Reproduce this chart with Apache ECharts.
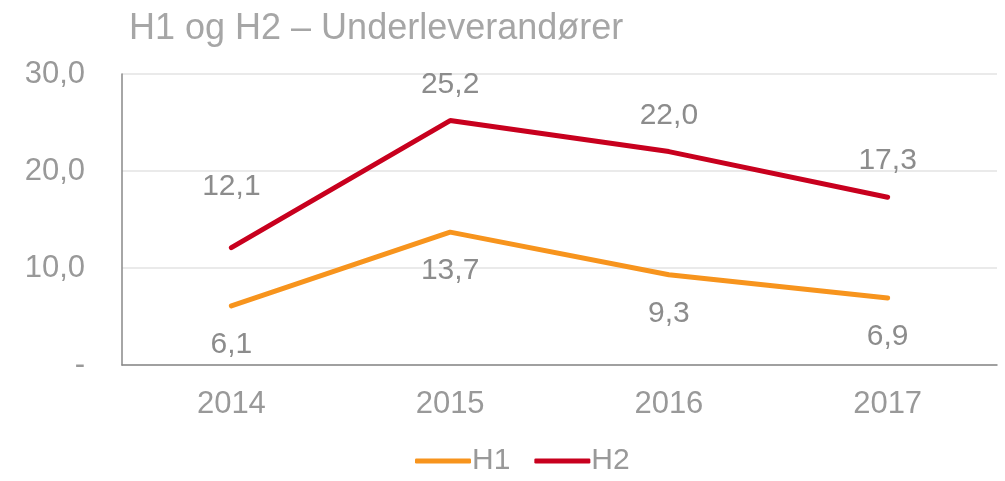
<!DOCTYPE html>
<html><head><meta charset="utf-8">
<script src="https://cdn.jsdelivr.net/npm/echarts@6/dist/echarts.min.js"></script>
<style>html,body{margin:0;padding:0;background:#fff}#c{width:1005px;height:481px}</style>
</head><body><div id="c"></div>
<script>
var categories = ['2014', '2015', '2016', '2017'];
var h1Values = [6.1, 13.7, 9.3, 6.9];
var h2Values = [12.1, 25.2, 22.0, 17.3];
var yTicks = [0, 10, 20, 30];
var titleText = 'H1 og H2 – Underleverandører';

var fmt = function (v) { return v === 0 ? '-' : Number(v).toFixed(1).replace('.', ','); };
var labelFmt = function (p) {
  var v = (p && typeof p.value === 'object' && p.value !== null) ? p.value.value : p.value;
  return fmt(v);
};
var font = 'Liberation Sans, Arial, sans-serif';
var chart = echarts.init(document.getElementById('c'));
var h2Data = h2Values.map(function (v, i) {
  return i === 0 ? { value: v, label: { distance: 45 } } : v;
});
chart.setOption({
  animation: false,
  title: { text: titleText, left: 124, top: 6, textStyle: { fontFamily: font, fontSize: 36, fontWeight: 'normal', color: '#a6a6a6' } },
  grid: { left: 122, right: 8, top: 74, bottom: 116 },
  legend: {
    bottom: 0, left: 410, itemWidth: 56, itemHeight: 5, itemGap: 24,
    icon: 'roundRect',
    textStyle: { fontFamily: font, fontSize: 30, color: '#999', padding: [0, 0, 0, -4] },
    data: ['H1', 'H2']
  },
  xAxis: {
    type: 'category', data: categories, boundaryGap: true,
    axisLine: { lineStyle: { color: '#888', width: 1.5 } },
    axisTick: { show: false },
    axisLabel: { fontFamily: font, fontSize: 31, color: '#999', margin: 24 }
  },
  yAxis: {
    type: 'value', min: yTicks[0], max: yTicks[yTicks.length - 1], interval: 10,
    axisLine: { show: true, lineStyle: { color: '#888', width: 1.5 } },
    axisTick: { show: false },
    splitLine: { lineStyle: { color: '#e3e3e3', width: 1.5 } },
    axisLabel: { fontFamily: font, fontSize: 31, color: '#999', margin: 37, formatter: fmt }
  },
  series: [
    {
      name: 'H1', type: 'line', data: h1Values, symbol: 'circle', symbolSize: 2, showSymbol: true,
      lineStyle: { color: '#f7941d', width: 5, cap: 'round' }, itemStyle: { color: '#f7941d' },
      label: { show: true, position: 'bottom', distance: 23, fontFamily: font, fontSize: 30, color: '#8c8c8c', formatter: labelFmt }
    },
    {
      name: 'H2', type: 'line', data: h2Data, symbol: 'circle', symbolSize: 2, showSymbol: true,
      lineStyle: { color: '#c8001e', width: 5, cap: 'round' }, itemStyle: { color: '#c8001e' },
      label: { show: true, position: 'top', distance: 20, fontFamily: font, fontSize: 30, color: '#8c8c8c', formatter: labelFmt }
    }
  ]
});
</script></body></html>
